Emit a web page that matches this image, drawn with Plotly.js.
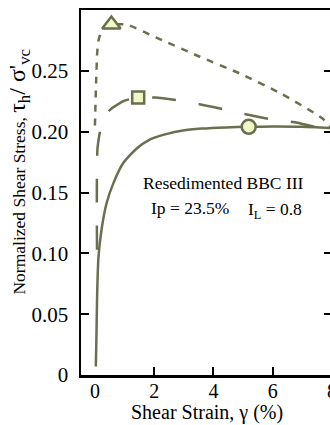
<!DOCTYPE html>
<html>
<head>
<meta charset="utf-8">
<script src="https://cdn.plot.ly/plotly-3.0.1.min.js"></script>
<style>
html, body { margin: 0; padding: 0; overflow: hidden; background: #fff; }
#chart { width: 345px; height: 425px; }
</style>
</head>
<body>
<div id="chart"></div>
<script>
// Constant-strain-rate curve (solid, circle marker)
const solidStrain = [0.03, 0.05, 0.07, 0.09, 0.12, 0.22, 0.39, 0.62, 0.95, 1.4, 1.85, 2.4, 2.97, 3.6, 4.4, 5.18, 6.0, 7.0, 8.0];
const solidStress = [0.007, 0.03, 0.06, 0.08, 0.097, 0.119, 0.141, 0.1575, 0.174, 0.186, 0.1935, 0.198, 0.201, 0.2025, 0.2035, 0.204, 0.2042, 0.204, 0.203];
// Long-dash curve (square marker)
const longStrain = [0.07, 0.065, 0.065, 0.07, 0.09, 0.17, 0.27, 0.56, 1.0, 1.46, 2.02, 2.86, 3.64, 4.43, 5.21, 5.98, 6.83, 7.67, 8.0];
const longStress = [0.103, 0.125, 0.15, 0.175, 0.187, 0.2, 0.211, 0.219, 0.2255, 0.228, 0.228, 0.2255, 0.222, 0.218, 0.2137, 0.210, 0.2074, 0.2027, 0.2025];
// Short-dash curve (triangle marker)
const shortStrain = [0.0, 0.01, 0.04, 0.08, 0.12, 0.2, 0.35, 0.56, 1.07, 2.13, 3.5, 4.87, 6.3, 7.67, 7.95];
const shortStress = [0.205, 0.214, 0.241, 0.266, 0.275, 0.281, 0.286, 0.288, 0.288, 0.2767, 0.262, 0.248, 0.231, 0.211, 0.204];
// Peak markers
const circleStrain = [5.19], circleStress = [0.204];
const squareStrain = [1.46], squareStress = [0.228];
const triangleStrain = [0.555], triangleStress = [0.288];

const xTickVals = [0, 2, 4, 6, 8];
const xTickText = ['0', '2', '4', '6', '8'];
const yTickVals = [0, 0.05, 0.10, 0.15, 0.20, 0.25, 0.30];
const yTickText = ['0', '0.05', '0.10', '0.15', '0.20', '0.25', '0.30'];

const lineColor = '#6b6e4f';
const fillColor = '#f1f7c5';
const serif = '"Liberation Serif", "Times New Roman", Times, serif';

const traces = [
  { x: shortStrain, y: shortStress, mode: 'lines', line: { color: lineColor, width: 2.5, dash: '7px,7px', shape: 'spline', smoothing: 0.6 }, hoverinfo: 'skip' },
  { x: longStrain, y: longStress, mode: 'lines', line: { color: lineColor, width: 2.5, dash: '24px,23px', shape: 'spline', smoothing: 0.6 }, hoverinfo: 'skip' },
  { x: solidStrain, y: solidStress, mode: 'lines', line: { color: lineColor, width: 2.5, shape: 'spline', smoothing: 0.6 }, hoverinfo: 'skip' },
  { x: triangleStrain, y: triangleStress, mode: 'markers', marker: { symbol: 'triangle-up', size: 16, color: fillColor, line: { color: lineColor, width: 2.5 } } },
  { x: squareStrain, y: squareStress, mode: 'markers', marker: { symbol: 'square', size: 12, color: fillColor, line: { color: lineColor, width: 2.5 } } },
  { x: circleStrain, y: circleStress, mode: 'markers', marker: { symbol: 'circle', size: 14, color: fillColor, line: { color: lineColor, width: 2.5 } } }
];

const layout = {
  width: 345, height: 425,
  margin: { l: 81, r: 13, t: 10, b: 50 },
  showlegend: false,
  paper_bgcolor: '#fff', plot_bgcolor: '#fff',
  font: { family: serif, color: '#000' },
  xaxis: {
    range: [-0.47, 8.0],
    tickvals: xTickVals, ticktext: xTickText,
    ticks: '', showgrid: false, zeroline: false,
    showline: true, linecolor: '#000', linewidth: 2.5, mirror: true,
    minor: { tickvals: [2, 4, 6], ticks: 'inside', ticklen: 8, tickwidth: 2, tickcolor: '#000', showgrid: false },
    tickfont: { family: serif, size: 20, color: '#000' },
    ticklabelstandoff: -4
  },
  yaxis: {
    range: [0, 0.30],
    tickvals: yTickVals, ticktext: yTickText,
    ticks: 'inside', ticklen: 8, tickwidth: 2, tickcolor: '#000',
    showgrid: false, zeroline: false,
    showline: true, linecolor: '#000', linewidth: 2.5, mirror: 'ticks',
    tickfont: { family: serif, size: 21, color: '#000' },
    ticklabelstandoff: 6
  },
  annotations: [
    { xref: 'paper', yref: 'paper', x: 0.5, y: -0.104, xanchor: 'center', yanchor: 'middle', showarrow: false,
      text: 'Shear Strain, \u03b3 (%)', font: { family: serif, size: 20, color: '#000' } },
    { xref: 'paper', yref: 'paper', x: -0.245, y: 0.556, xanchor: 'center', yanchor: 'middle', textangle: -90, showarrow: false,
      text: 'Normalized Shear Stress, <span style="font-size:24px">\u03c4<sub>h</sub>/ \u03c3\'<sub>vc</sub></span>',
      font: { family: serif, size: 17.5, color: '#000' } },
    { x: 4.35, y: 0.158, xref: 'x', yref: 'y', showarrow: false, text: 'Resedimented BBC III', font: { family: serif, size: 17.5, color: '#000' } },
    { x: 3.2, y: 0.137, xref: 'x', yref: 'y', showarrow: false, text: 'Ip = 23.5%', font: { family: serif, size: 17.5, color: '#000' } },
    { x: 6.08, y: 0.135, xref: 'x', yref: 'y', showarrow: false, text: 'I<sub>L</sub> = 0.8', font: { family: serif, size: 17.5, color: '#000' } }
  ]
};

Plotly.newPlot('chart', traces, layout, { displayModeBar: false, staticPlot: true });
</script>
</body>
</html>
